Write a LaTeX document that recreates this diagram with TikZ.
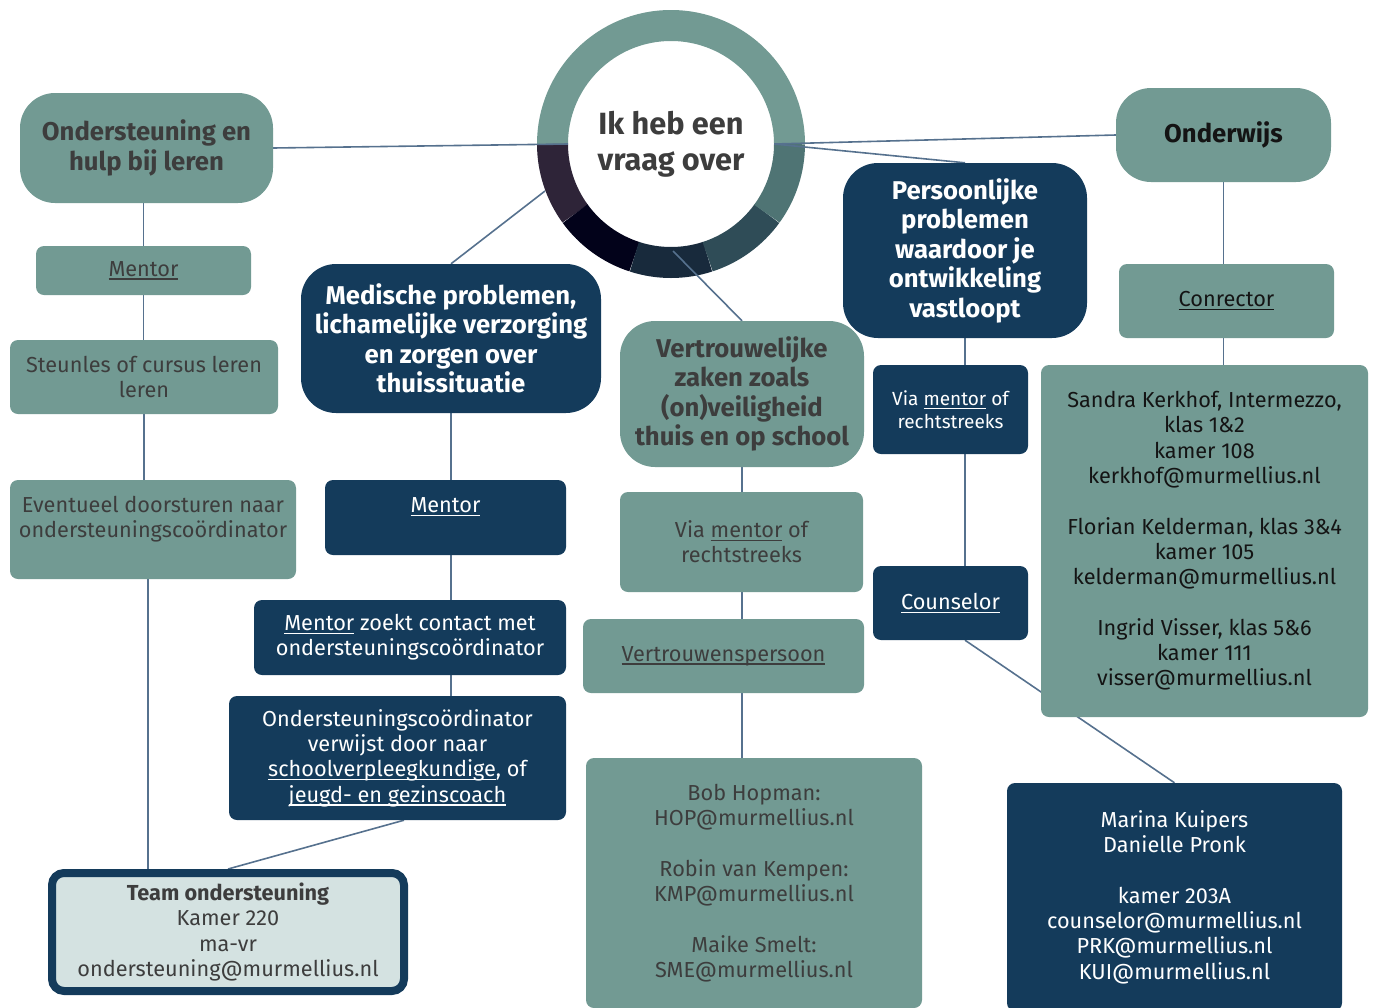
\documentclass[tikz,border=0pt]{standalone}
\usepackage{fontspec}
\setmainfont{Fira Sans}
\usetikzlibrary{calc}
\definecolor{tealc}{HTML}{729A93}
\definecolor{navyc}{HTML}{143B5B}
\definecolor{graytxt}{HTML}{3D3D3D}
\definecolor{blacktxt}{HTML}{141414}
\definecolor{linec}{HTML}{56718E}
\definecolor{lightc}{HTML}{D4E2E1}
\definecolor{ringA}{HTML}{729A93}
\definecolor{ringB}{HTML}{2E2438}
\definecolor{ringC}{HTML}{02021A}
\definecolor{ringD}{HTML}{182A3C}
\definecolor{ringE}{HTML}{2F4C57}
\definecolor{ringF}{HTML}{4F7474}
\pgfdeclarelayer{ringlayer}
\pgfdeclarelayer{connlayer}
\pgfsetlayers{ringlayer,connlayer,main}
\newcommand\myul[1]{\setbox0\hbox{#1}\rlap{\rule[-3.5pt]{\wd0}{1.3pt}}\box0\relax}
\tikzset{
  box/.style={inner sep=0pt, align=center, rounded corners=8},
  tealbox/.style={box, fill=tealc, text=graytxt},
  navybox/.style={box, fill=navyc, text=white},
  bigr/.style={rounded corners=35},
  sz/.style 2 args={minimum width=#1, minimum height=#2},
  txt/.style={font=\fontsize{21.7}{25.3}\selectfont},
  smalltxt/.style={font=\fontsize{19}{23}\selectfont},
  head/.style={font=\fontsize{25.7}{29.5}\selectfont\bfseries},
  conn/.style={draw=linec, line width=1.6},
}
\begin{document}
\begin{tikzpicture}[x=1pt,y=-1pt]
\useasboundingbox (0,0) rectangle (1373,1007);
\clip (0,0) rectangle (1373,1007);

% ring
\begin{pgfonlayer}{ringlayer}
\foreach \a/\b/\c in {0/-180/ringA, 180/144/ringB, 144/108/ringC, 108/72/ringD, 72/36/ringE, 36/0/ringF}
  \draw[line width=31, draw=\c] (671,144) ++(\a:118.5) arc[start angle=\a, end angle=\b, radius=118.5];
\end{pgfonlayer}

\node[circle, minimum size=206, inner sep=0pt, align=center, text=graytxt,
      font=\fontsize{30.7}{36}\selectfont\bfseries] (hub) at (671,144) {Ik heb een\\vraag over};
\coordinate (hubSW) at (545,191);
\coordinate (hubS) at (673,251);

% left column
\node[tealbox, bigr, head, sz={253}{110}] (ondl) at (146.5,148) {Ondersteuning en\\hulp bij leren};
\node[tealbox, txt, sz={215}{49}] (mentl) at (143.5,270.5) {\myul{Mentor}};
\node[tealbox, txt, sz={268}{74}] (steun) at (144,377) {Steunles of cursus leren\\leren};
\node[tealbox, txt, sz={286}{99}] (event) at (153,529.5) {Eventueel doorsturen naar\\ondersteuningscoördinator\\\mbox{}};
\node[box, txt, rounded corners=12, draw=navyc, line width=8, fill=lightc, text=graytxt, sz={352}{118}] (team) at (228,932)
  {\textbf{Team ondersteuning}\\Kamer 220\\ma-vr\\ondersteuning@murmellius.nl};

% medische column
\node[navybox, bigr, head, sz={300}{149}] (med) at (451,338.5) {Medische problemen,\\lichamelijke verzorging\\en zorgen over\\thuissituatie};
\node[navybox, txt, sz={241}{75}] (mentm) at (445.5,517.5) {\myul{Mentor}\\\mbox{}};
\node[navybox, txt, sz={312}{75}] (zoek) at (410,637.5) {\myul{Mentor} zoekt contact met\\ondersteuningscoördinator};
\node[navybox, txt, sz={337}{124}] (verw) at (397.5,758) {Ondersteuningscoördinator\\verwijst door naar\\\myul{schoolverpleegkundige}, of\\\myul{jeugd- en gezinscoach}};

% vertrouwelijke column
\node[tealbox, bigr, head, sz={244}{146}] (vert) at (742,394) {Vertrouwelijke\\zaken zoals\\(on)veiligheid\\thuis en op school};
\node[tealbox, txt, sz={243}{100}] (viam) at (741.5,542) {Via \myul{mentor} of\\rechtstreeks};
\node[tealbox, txt, sz={281}{74}] (vpers) at (723.5,656) {\myul{Vertrouwenspersoon}};
\node[tealbox, txt, sz={336}{250}] (bob) at (754,883) {Bob Hopman:\\HOP@murmellius.nl\\[25.3pt]Robin van Kempen:\\KMP@murmellius.nl\\[25.3pt]Maike Smelt:\\SME@murmellius.nl};

% persoonlijke column
\node[navybox, bigr, head, sz={244}{175}] (pers) at (965,250.5) {Persoonlijke\\problemen\\waardoor je\\ontwikkeling\\vastloopt};
\node[navybox, smalltxt, sz={155}{89}] (viar) at (950.5,409.5) {Via \myul{mentor} of\\rechtstreeks};
\node[navybox, txt, sz={155}{74}] (couns) at (950.5,603) {\myul{Counselor}};
\node[navybox, txt, sz={335}{228}] (marina) at (1174.5,897) {Marina Kuipers\\Danielle Pronk\\[25.3pt]kamer 203A\\counselor@murmellius.nl\\PRK@murmellius.nl\\KUI@murmellius.nl};

% onderwijs column
\node[tealbox, bigr, head, text=blacktxt, sz={215}{94}] (onderw) at (1223.5,135) {Onderwijs};
\node[tealbox, txt, text=blacktxt, sz={215}{74}] (conr) at (1226.5,301) {\myul{Conrector}};
\node[tealbox, txt, text=blacktxt, sz={327}{352}] (sandra) at (1204.5,541)
  {Sandra Kerkhof, Intermezzo,\\klas 1\&2\\kamer 108\\kerkhof@murmellius.nl\\[25.3pt]Florian Kelderman, klas 3\&4\\kamer 105\\kelderman@murmellius.nl\\[25.3pt]Ingrid Visser, klas 5\&6\\kamer 111\\visser@murmellius.nl};

% connectors
\begin{pgfonlayer}{connlayer}
\draw[conn] (ondl.east) -- (hub.west);
\draw[conn] (mentl.north |- ondl.south) -- (mentl.north);
\draw[conn] (mentl.south) -- (mentl.south |- steun.north);
\draw[conn] (steun.south) -- (steun.south |- event.north);
\draw[conn] ([xshift=-5]event.south) -- ([xshift=-5]event.south |- team.north);
\draw[conn] (med.north) -- (hubSW);
\draw[conn] (med.south) -- (med.south |- mentm.north);
\draw[conn] (med.south |- mentm.south) -- (med.south |- zoek.north);
\draw[conn] (med.south |- zoek.south) -- (med.south |- verw.north);
\draw[conn] ([xshift=6.5]verw.south) -- (team.north);
\draw[conn] (hubS) -- (vert.north);
\draw[conn] (vert.south) -- (vert.south |- viam.north);
\draw[conn] (vert.south |- viam.south) -- (vert.south |- vpers.north);
\draw[conn] (vert.south |- vpers.south) -- (vert.south |- bob.north);
\draw[conn] (hub.east) -- (onderw.west);
\draw[conn] (hub.east) -- (pers.north);
\draw[conn] (pers.south) -- (pers.south |- viar.north);
\draw[conn] (pers.south |- viar.south) -- (pers.south |- couns.north);
\draw[conn] (pers.south |- couns.south) -- (marina.north);
\draw[conn] (onderw.south) -- (onderw.south |- conr.north);
\draw[conn] (onderw.south |- conr.south) -- (onderw.south |- sandra.north);
\end{pgfonlayer}
\end{tikzpicture}
\end{document}
